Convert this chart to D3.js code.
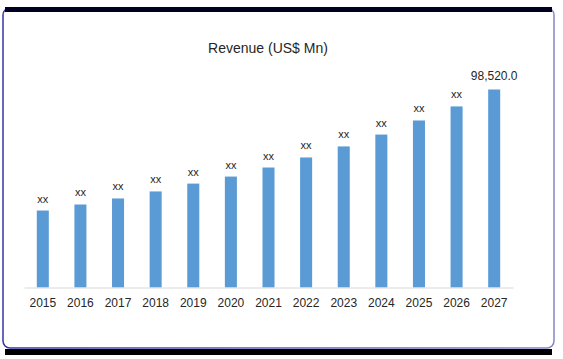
<!DOCTYPE html>
<html><head><meta charset="utf-8">
<script src="https://cdn.jsdelivr.net/npm/d3@7"></script>
<style>html,body{margin:0;padding:0;background:#fff;} svg{display:block;}</style>
</head><body>
<svg id="c" width="563" height="359"></svg>
<script>
const years = ["2015","2016","2017","2018","2019","2020","2021","2022","2023","2024","2025","2026","2027"];
const revenue = [38300,41300,44300,47800,51700,55200,59700,64700,70200,76100,83100,90100,98520];
const valueLabels = ["xx","xx","xx","xx","xx","xx","xx","xx","xx","xx","xx","xx","98,520.0"];
const chartTitle = "Revenue (US$ Mn)";

const svg = d3.select("#c");

// frame
const defs = svg.append("defs");
const g = defs.append("linearGradient").attr("id","fr").attr("x1","0").attr("x2","1").attr("y1","0").attr("y2","0");
g.append("stop").attr("offset","0").attr("stop-color","#3434a8");
g.append("stop").attr("offset","1").attr("stop-color","#8585c8");
svg.append("rect").attr("x",3).attr("y",8).attr("width",551).attr("height",340).attr("rx",7)
  .attr("fill","#fff").attr("stroke","url(#fr)").attr("stroke-width",1.5);
svg.append("rect").attr("x",5).attr("y",7).attr("width",547).attr("height",5).attr("fill","#000020");
svg.append("rect").attr("x",5).attr("y",349).attr("width",547).attr("height",6).attr("fill","#000");

const x = d3.scaleBand().domain(years).range([24, 513]).paddingInner(0.68).paddingOuter(0.34);
const y = d3.scaleLinear().domain([0, 98520]).range([287.5, 89.5]);

// bars
svg.append("g").selectAll("rect").data(years).join("rect")
  .attr("x", d => x(d)).attr("width", x.bandwidth())
  .attr("y", (d,i) => y(revenue[i])).attr("height", (d,i) => y(0) - y(revenue[i]))
  .attr("fill", "#5b9bd5");

// axis
const ax = svg.append("g").attr("transform", `translate(0,${y(0)})`)
  .call(d3.axisBottom(x).tickSize(0).tickPadding(11));
ax.select(".domain").attr("stroke","#d9d9d9").attr("stroke-width",1.2);
ax.selectAll("text").attr("font-family","Liberation Sans, Arial, sans-serif").attr("font-size","12px").attr("fill","#262626");

// value labels
svg.append("g").selectAll("text").data(years).join("text")
  .attr("x", d => x(d) + x.bandwidth()/2)
  .attr("y", (d,i) => y(revenue[i]) - (i === 12 ? 10 : 8))
  .attr("text-anchor","middle")
  .attr("font-family","Liberation Sans, Arial, sans-serif")
  .attr("font-size", (d,i) => i === 12 ? "12px" : "11px")
  .attr("fill","#262626")
  .text((d,i) => valueLabels[i]);

// title
svg.append("text").attr("x", 268).attr("y", 53).attr("text-anchor","middle")
  .attr("font-family","Liberation Sans, Arial, sans-serif").attr("font-size","14px").attr("fill","#262626")
  .text(chartTitle);
</script>
</body></html>
